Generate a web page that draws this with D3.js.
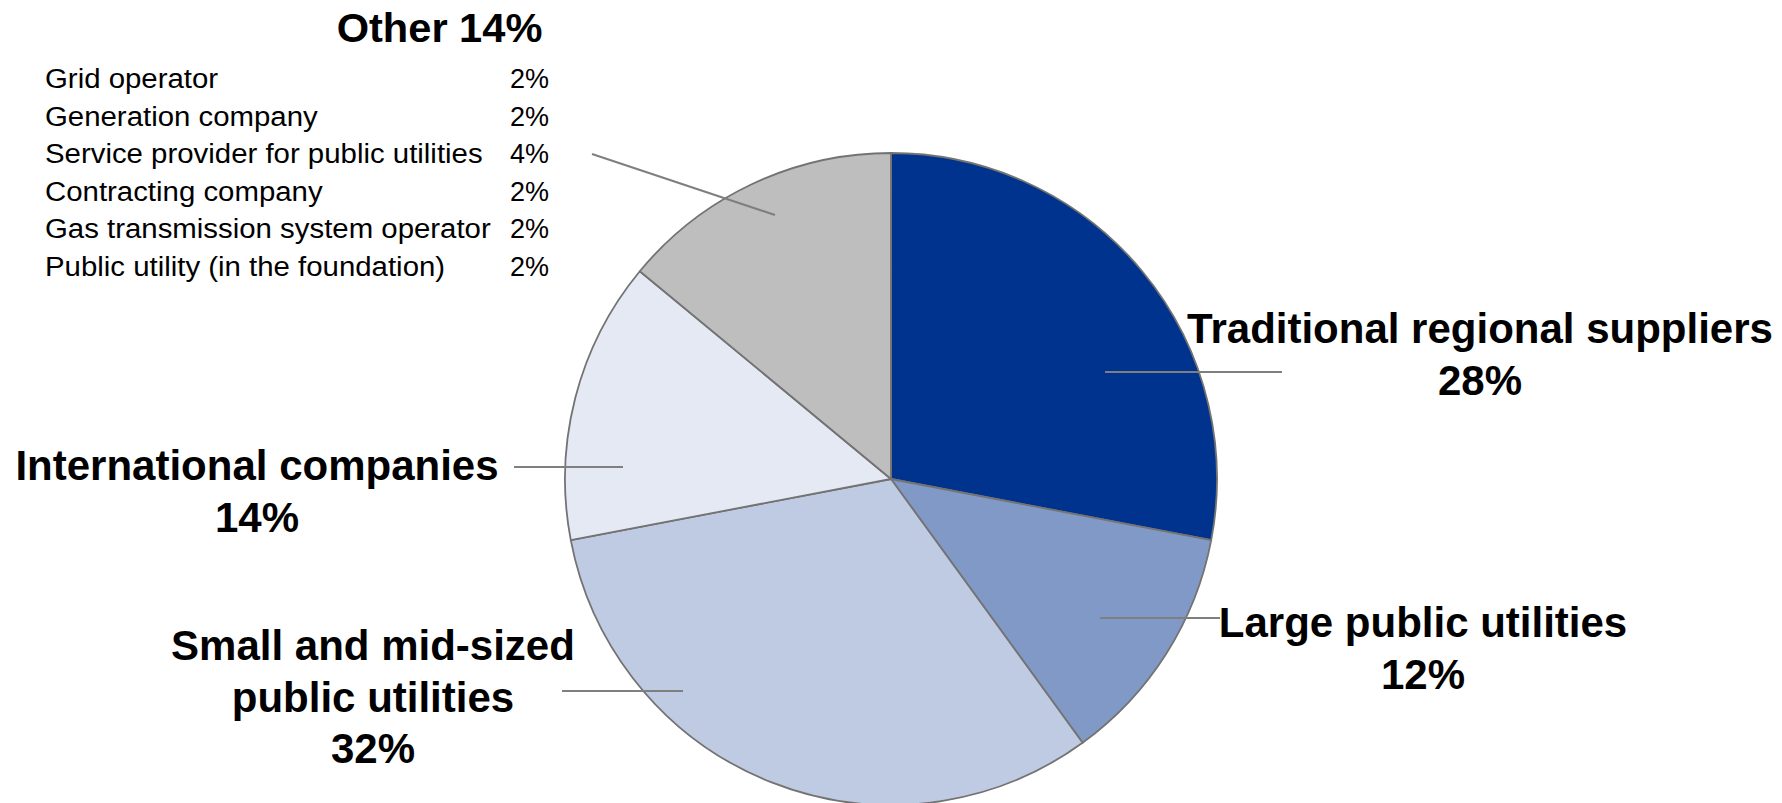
<!DOCTYPE html>
<html>
<head>
<meta charset="utf-8">
<script src="https://cdn.jsdelivr.net/npm/d3@7"></script>
<style>
  html, body { margin: 0; padding: 0; background: #fff; }
  svg { display: block; font-family: "Liberation Sans", Arial, sans-serif; }
</style>
</head>
<body>
<svg id="chart" width="1782" height="803"></svg>
<script>
window.addEventListener("load", drawPie);

// the data
var categories = ["Traditional regional suppliers", "Large public utilities",
                  "Small and mid-sized public utilities", "International companies", "Other"];
var shares = [28, 12, 32, 14, 14];
var colors = ["#00338d", "#8199c6", "#bfcbe2", "#e4e9f3", "#bebebe"];

// breakdown of "Other"
var otherItems = ["Grid operator", "Generation company", "Service provider for public utilities",
                  "Contracting company", "Gas transmission system operator", "Public utility (in the foundation)"];
var otherShares = [2, 2, 4, 2, 2, 2];

// label text lines (the percentage line is added from shares)
var labelLines = [
    ["Traditional regional suppliers"],
    ["Large public utilities"],
    ["Small and mid-sized", "public utilities"],
    ["International companies"]
];

function drawPie(){

    var svg = d3.select("#chart");
    var cx = 891, cy = 479, r = 326;

    var pie = d3.pie().sort(null).value(d => d.v);
    var arc = d3.arc().innerRadius(0).outerRadius(r);
    var rows = categories.map((c, i) => ({name: c, v: shares[i], color: colors[i]}));

    var g = svg.append("g").attr("transform", "translate(" + cx + "," + cy + ")");
    g.selectAll("path")
        .data(pie(rows)).enter().append("path")
        .attr("d", arc)
        .attr("fill", d => d.data.color)
        .attr("stroke", "#737373")
        .attr("stroke-width", 1.8)
        .attr("stroke-linejoin", "round");

    // label placement (layout only)
    var layout = [
        {x: 1480, y: 343, line: [1105, 372, 1282, 372]},
        {x: 1423, y: 637, line: [1100, 618, 1220, 618]},
        {x: 373,  y: 660, line: [562, 691, 683, 691]},
        {x: 257,  y: 480, line: [514, 467, 623, 467]}
    ];
    var lh = 51.5;

    // leader lines
    svg.selectAll("line.leader")
        .data(layout.concat([{line: [592, 154, 775, 215]}])).enter().append("line")
        .attr("class", "leader")
        .attr("x1", d => d.line[0]).attr("y1", d => d.line[1])
        .attr("x2", d => d.line[2]).attr("y2", d => d.line[3])
        .attr("stroke", "#7f7f7f").attr("stroke-width", 2);

    // main labels
    labelLines.forEach(function(lines, i){
        var all = lines.concat([shares[i] + "%"]);
        var t = svg.append("text")
            .attr("text-anchor", "middle")
            .attr("font-size", 42).attr("font-weight", "bold").attr("fill", "#000");
        all.forEach(function(s, k){
            t.append("tspan").attr("x", layout[i].x).attr("y", layout[i].y + k * lh).text(s);
        });
    });

    // "Other" title
    svg.append("text")
        .attr("transform", "translate(439.5,42) scale(1.04,1)")
        .attr("text-anchor", "middle")
        .attr("font-size", 40).attr("font-weight", "bold")
        .text(categories[4] + " " + shares[4] + "%");

    // "Other" breakdown list
    var scY = d3.scalePoint().domain(otherItems).range([88, 276]);
    svg.selectAll("text.item")
        .data(otherItems).enter().append("text")
        .attr("class", "item")
        .attr("transform", d => "translate(45," + scY(d) + ") scale(1.05,1)")
        .attr("font-size", 28)
        .text(d => d);
    svg.selectAll("text.itemv")
        .data(otherItems).enter().append("text")
        .attr("class", "itemv")
        .attr("x", 510)
        .attr("y", d => scY(d))
        .attr("font-size", 27)
        .text((d, i) => otherShares[i] + "%");
}
</script>
</body>
</html>
